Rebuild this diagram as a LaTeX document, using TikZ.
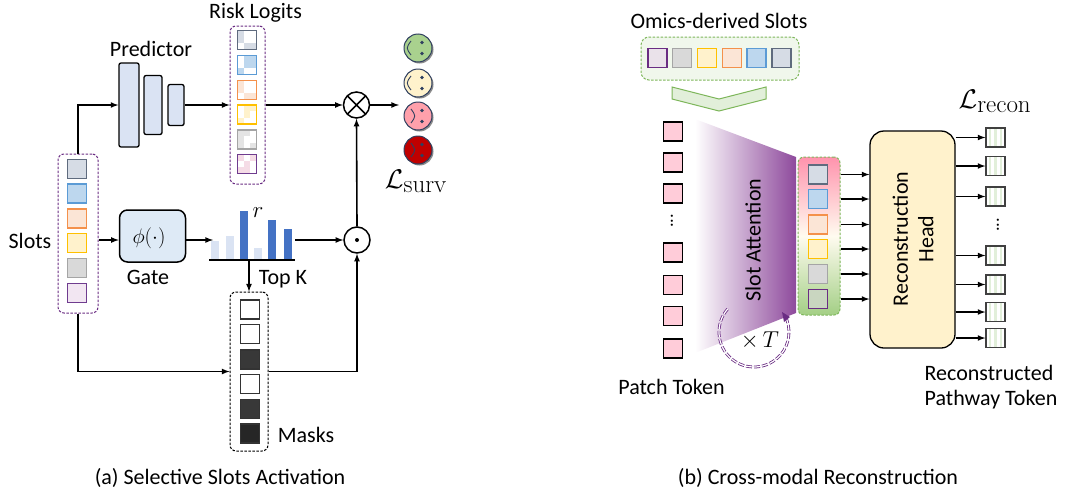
\documentclass[tikz,border=0pt]{standalone}
\usepackage{fix-cm}
\usepackage[no-math]{fontspec}
\usepackage{amsmath, amssymb}
\setmainfont{Carlito}
\usetikzlibrary{shapes, arrows, positioning, calc, shadows}
\DeclareMathSizes{27}{27}{25}{20}
\definecolor{slotgrey}{HTML}{D6DCE5}
\definecolor{slotgreyb}{HTML}{5F6B7E}
\definecolor{slotblue}{HTML}{BDD7EE}
\definecolor{slotblueb}{HTML}{5B9BD5}
\definecolor{slotorange}{HTML}{FBE5D6}
\definecolor{slotorangeb}{HTML}{F4914B}
\definecolor{slotyellow}{HTML}{FFF2CC}
\definecolor{slotyellowb}{HTML}{FFC000}
\definecolor{slotsilver}{HTML}{D9D9D9}
\definecolor{slotsilverb}{HTML}{A5A5A5}
\definecolor{slotpurple}{HTML}{F2E6F2}
\definecolor{slotpurpleb}{HTML}{6F3C8F}
\definecolor{boxpurple}{HTML}{6A2C83}
\definecolor{boxgreen}{HTML}{7DB65A}
\definecolor{predblue}{HTML}{DAE3F3}
\definecolor{gateblue}{HTML}{DEEAF6}
\definecolor{barblue}{HTML}{4472C4}
\definecolor{barlight}{HTML}{DAE3F3}
\definecolor{patchpink}{HTML}{FFCCD9}
\definecolor{trapend}{HTML}{8E4A9C}
\definecolor{colpink}{HTML}{FF93AD}
\definecolor{colgreen}{HTML}{A3CF85}
\definecolor{facedark}{HTML}{2F3F5F}
\definecolor{stripegreen}{HTML}{E2EFDA}
\definecolor{facegreen}{HTML}{A9D18E}
\definecolor{facepink}{HTML}{FFA0AB}
\definecolor{facered}{HTML}{C00000}
\begin{document}
\begin{tikzpicture}[x=1pt, y=-1pt, >=latex,
                every node/.style={font=\fontsize{22}{25.5}\selectfont},
                link/.style={->, line width=1.6pt},
                dashbox/.style={draw=boxpurple, dash pattern=on 2.5pt off 1.5pt, line width=1pt, rounded corners=6pt, inner sep=0pt},
                cell/.style={draw, line width=1.3pt, minimum size=19pt, inner sep=0pt},
                predbox/.style={draw, fill=predblue, line width=1.3pt, rounded corners=2pt, inner sep=0pt},
                opnode/.style={draw, circle, line width=1.5pt, minimum size=26pt, inner sep=0pt},
                barnode/.style={anchor=south, minimum width=8pt, inner sep=0pt},
                face/.style={draw=facedark, circle, line width=1pt, minimum size=28pt, inner sep=0pt,
                    drop shadow={shadow xshift=1.5pt, shadow yshift=-1.5pt, opacity=0.45, fill=black}},
                tokencell/.style={cell, draw=black!75, path picture={
                    \foreach \s in {1,3,5}
                        \fill[stripegreen] ($(path picture bounding box.north west)+(\s*19/7,0)$) rectangle +(19/7,19);}},
                vdots/.style={rotate=90, font=\fontsize{18}{20}\selectfont}]
                \useasboundingbox (0,0) rectangle (1065,493);

                \node[dashbox, minimum width=40pt, minimum height=159pt] (slotbox) at (78,233.5) {};
                \foreach \y/\f/\b [count=\i] in {169/slotgrey/slotgreyb, 193.5/slotblue/slotblueb, 218.5/slotorange/slotorangeb,
                    243/slotyellow/slotyellowb, 268/slotsilver/slotsilverb, 293/slotpurple/slotpurpleb}
                    \node[cell, draw=\b, fill=\f] (slot\i) at (77,\y) {};
                \node (slotslabel) at (30,241) {Slots};

                \node[predbox, minimum width=20pt, minimum height=84pt] (pred1) at (129,105) {};
                \node[predbox, minimum width=18pt, minimum height=59pt] (pred2) at (153,105) {};
                \node[predbox, minimum width=16pt, minimum height=41pt] (pred3) at (176,105) {};
                \node (predlabel) at (151,49) {Predictor};

                \node[dashbox, minimum width=35pt, minimum height=158pt] (risk) at (247.5,105) {};
                \foreach \y/\f/\b/\cells [count=\i] in {
                    40/slotgrey/slotgreyb/{0/0,0/1,1/2,2/2},
                    65/slotblue/slotblueb/{1/0,2/0,1/1,2/1,0/2},
                    90/slotorange/slotorangeb/{0/0,0/1,1/2,2/2},
                    114.5/slotyellow/slotyellowb/{1/0,2/0,1/1,0/2},
                    139.5/slotsilver!70/slotsilverb/{0/0,1/0,0/1,0/2,2/2},
                    164/slotpurple!60!purple!30/slotpurpleb/{0/0,2/0,1/1,0/2,1/2}}
                    \node[cell, draw=\b, path picture={
                        \foreach \c/\r in \cells
                            \fill[\f] ($(path picture bounding box.north west)+(\c*19/3,\r*19/3)$) rectangle +(19/3,19/3);}] (logit\i) at (247,\y) {};
                \node (risklabel) at (255.5,13) {Risk Logits};

                \node[opnode, path picture={\draw[line width=1.5pt] (path picture bounding box.south west) -- (path picture bounding box.north east)
                    (path picture bounding box.north west) -- (path picture bounding box.south east);}] (otimes) at (356.5,105) {};
                \node[opnode, path picture={\fill (path picture bounding box.center) circle (2pt);}] (odot) at (357,240) {};
                \coordinate (survin) at (399,105);

                \foreach \y/\f/\m [count=\i] in {48/facegreen/-12, 83/slotyellow/-12, 116/facepink/-2, 150/facered/-2}
                    {
                    \node[face, fill=\f] (face\i) at (418,\y) {};
                    \fill[facedark] ($(face\i.center)+(4,-5.5)$) circle (1.8pt) ($(face\i.center)+(4,5.5)$) circle (1.8pt);
                    \draw[facedark, line width=0.9pt] ($(face\i.center)+(-7,-7)$) .. controls ($(face\i.center)+(\m,0)$) .. ($(face\i.center)+(-7,7)$);
                    }
                \node[font=\fontsize{27}{30}\selectfont] (lsurv) at (416,181) {$\mathcal{L}_{\mathrm{surv}}$};

                \node[draw, fill=gateblue, line width=1.5pt, rounded corners=8pt, minimum width=66pt, minimum height=52pt, inner sep=0pt] (gate) at (152.5,236) {};
                \node[font=\fontsize{21}{24}\selectfont] (gatefn) at (149,238) {$\phi(\cdot)$};
                \node (gatelabel) at (148,277) {Gate};

                \foreach \x/\y/\f [count=\i] in {215/19/barlight, 230/24/barlight, 244/49/barblue, 258/12/barlight, 272/40/barblue, 288/31/barblue}
                    \node[barnode, fill=\f, minimum height=\y pt] (bar\i) at (\x,260) {};
                \coordinate (axisl) at (209,260);
                \coordinate (axisr) at (295,260);
                \coordinate (barin) at (213,240);
                \draw[line width=1.5pt] (axisl) -- (axisr);
                \node[font=\fontsize{23}{24}\selectfont] (rlabel) at (258,213) {$r$};
                \node (topk) at (283,279) {Top K};

                \node[dashbox, draw=black, minimum width=38pt, minimum height=159pt] (masks) at (249,371.5) {};
                \foreach \y/\f [count=\i] in {309.5/white, 334/white, 359.5/black!78, 384/white, 409/black!78, 433.5/black!85}
                    \node[cell, draw=black!80, fill=\f] (mask\i) at (250,\y) {};
                \node (maskslabel) at (306,435) {Masks};

                \draw[link] (slotbox.north) |- (pred1.west);
                \draw[link] (pred3.east) -- (risk.west);
                \draw[link] (risk.east) -- (otimes.west);
                \draw[link] (otimes.east) -- (survin);
                \draw[link] (slotbox.east |- odot) -- (gate.west |- odot);
                \draw[link] (gate.east |- odot) -- (barin);
                \draw[link] (axisr |- odot) -- (odot.west);
                \draw[link] (odot.north) -- (otimes.south);
                \draw[link] (masks.north |- axisl) -- (masks.north);
                \draw[link] (slotbox.south) |- (masks.west);
                \draw[link] (masks.east) -| (odot.south);
                \node (captiona) at (220,478) {(a) Selective Slots Activation};

                \node (omicslabel) at (719,21) {Omics-derived Slots};
                \node[dashbox, draw=boxgreen, fill=stripegreen!50, rounded corners=8pt, minimum width=158pt, minimum height=43pt] (omics) at (720,58.5) {};
                \foreach \x/\f/\b [count=\i] in {657.5/slotpurple!70!slotsilver/boxpurple, 682/slotsilver/slotsilverb, 707/slotyellow/slotyellowb,
                    732/slotorange/slotorangeb, 756.5/slotblue/slotblueb, 781.5/slotgrey/slotgreyb}
                    \node[cell, draw=\b, fill=\f] (omic\i) at (\x,58) {};
                \draw[boxgreen, fill=stripegreen, line width=1pt] (672,87) -- (719,99) -- (766,87) -- (766,99) -- (719,111) -- (672,99) -- cycle;

                \foreach \y [count=\i] in {131.5,162.5,193.5,252.5,285,316,348.5}
                    \node[cell, fill=patchpink] (patch\i) at (673,\y) {};
                \node[vdots] (patchdots) at (672,221) {...};
                \node (patchlabel) at (671.5,387) {Patch Token};

                \shade[left color=white, right color=trapend] (695,119) -- (796,157) -- (796,313) -- (695,353) -- cycle;
                \node[rotate=90] (attlabel) at (753,240) {Slot Attention};
                \coordinate (loopc) at (754,332);
                \draw[boxpurple, line width=0.8pt, double distance=1.2pt, dash pattern=on 6pt off 2pt] ([shift={(139:35pt)}]loopc) arc[start angle=139, end angle=388, radius=35pt];
                \fill[boxpurple] (782,312) -- (790,317) -- (784,322) -- cycle;
                \node[font=\fontsize{23}{24}\selectfont] (looplabel) at (760,341) {$\times\, T$};

                \node[dashbox, draw=boxgreen, top color=colpink, bottom color=colgreen, middle color=slotyellow!30, rounded corners=6pt, minimum width=42pt, minimum height=158pt] (slotcol) at (819,236) {};
                \foreach \y/\f/\b [count=\i] in {174.5/slotgrey/slotgreyb, 199/slotblue/slotblueb, 224.5/slotorange/slotorangeb,
                    249/slotyellow/slotyellowb, 274/slotsilver/slotsilverb, 299/colgreen!30!slotsilver/boxpurple}
                    \node[cell, draw=\b, fill=\f] (col\i) at (818,\y) {};

                \node[draw, fill=slotyellow, line width=1.3pt, rounded corners=14pt, minimum width=85pt, minimum height=217pt, inner sep=0pt] (head) at (912.5,239.5) {};
                \node[rotate=90, align=center] (headlabel) at (913,239) {Reconstruction\\Head};
                \foreach \i in {1,...,6}
                    \draw[link] (slotcol.east |- col\i) -- (head.west |- col\i);

                \foreach \y [count=\i] in {137.5,166,196.5,255.5,284.5,312,338}
                    {
                    \node[tokencell] (token\i) at (995.5,\y) {};
                    \draw[link] (head.east |- token\i) -- (token\i.west);
                    }
                \node[vdots] (tokendots) at (998,225) {...};
                \node[font=\fontsize{27}{30}\selectfont] (lrecon) at (995,101) {$\mathcal{L}_{\mathrm{recon}}$};
                \node[align=left] (tokenlabel) at (991,387) {Reconstructed\\Pathway Token};
                \node (captionb) at (818,478) {(b) Cross-modal Reconstruction};
            \end{tikzpicture}
\end{document}
